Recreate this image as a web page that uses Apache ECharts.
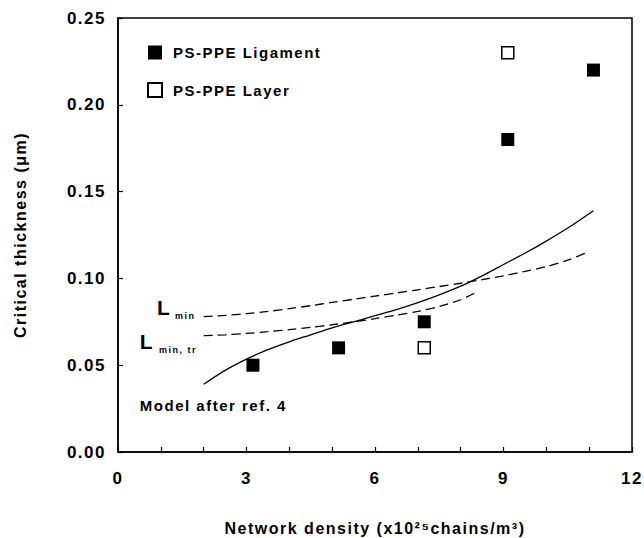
<!DOCTYPE html>
<html>
<head>
<meta charset="utf-8">
<script src="https://cdn.jsdelivr.net/npm/echarts@6/dist/echarts.min.js"></script>
<style>
  html, body { margin: 0; padding: 0; background: #fff; }
  #main { width: 644px; height: 538px; }
  /* the scanned figure uses wide tracking */
  #main text { letter-spacing: 1.5px; }
</style>
</head>
<body>
<div id="main"></div>
<script>
// model curves
var modelX = [2.0, 2.5, 3.0, 3.5, 4.0, 4.5, 5.0, 5.5, 6.0, 6.5, 7.0, 7.5, 8.0, 8.5, 9.0, 9.5, 10.0, 10.5, 11.1];
var modelY = [0.039, 0.047, 0.0535, 0.059, 0.0635, 0.0675, 0.0715, 0.075, 0.0785, 0.082, 0.086, 0.0905, 0.0955, 0.1015, 0.108, 0.1145, 0.1215, 0.129, 0.139];
var lminX = [2.0, 2.5, 3.0, 3.5, 4.0, 4.5, 5.0, 5.5, 6.0, 6.5, 7.0, 7.5, 8.0, 8.5, 9.0, 9.5, 10.0, 10.5, 11.0];
var lminY = [0.078, 0.0787, 0.0797, 0.081, 0.0826, 0.0843, 0.0862, 0.088, 0.0898, 0.0916, 0.0934, 0.0953, 0.0972, 0.0993, 0.1015, 0.104, 0.1068, 0.1105, 0.1155];
var lminTrX = [2.0, 2.5, 3.0, 3.5, 4.0, 4.5, 5.0, 5.5, 6.0, 6.5, 7.0, 7.5, 8.0, 8.4];
var lminTrY = [0.067, 0.0675, 0.0683, 0.0693, 0.0705, 0.0718, 0.0733, 0.075, 0.0768, 0.0788, 0.081, 0.0838, 0.0877, 0.0925];

// measured points
var ligamentX = [3.15, 5.15, 7.15, 9.1, 11.1];
var ligamentY = [0.05, 0.06, 0.075, 0.18, 0.22];
var layerX = [7.15, 9.1];
var layerY = [0.06, 0.23];

var xTicks = [0, 3, 6, 9, 12];
var yTicks = [0, 0.05, 0.10, 0.15, 0.20, 0.25];

var FONT = 'Liberation Sans, Arial, sans-serif';

function pairs(xs, ys) {
    var out = [];
    for (var i = 0; i < xs.length; i++) out.push([xs[i], ys[i]]);
    return out;
}

var chart = echarts.init(document.getElementById('main'), null, {renderer: 'svg'});

chart.setOption({
    animation: false,
    backgroundColor: '#fff',
    textStyle: {fontFamily: FONT, color: '#000', fontWeight: 'bold'},
    grid: {
        left: 118, right: 12, top: 18, bottom: 86,
        outerBoundsMode: 'none',
        show: true, borderColor: '#000', borderWidth: 1.5
    },
    legend: {
        left: 147, top: 45, orient: 'vertical',
        padding: 0, itemGap: 22, itemWidth: 14, itemHeight: 14,
        icon: 'rect',
        data: ['PS-PPE Ligament', 'PS-PPE Layer'],
        textStyle: {fontFamily: FONT, fontSize: 15, fontWeight: 'bold', color: '#000', padding: [0, 0, 0, 6]}
    },
    xAxis: {
        type: 'value',
        min: xTicks[0], max: xTicks[xTicks.length - 1], interval: 3,
        name: 'Network density (x10²⁵chains/m³)',
        nameLocation: 'middle', nameGap: 68,
        nameTextStyle: {fontFamily: FONT, fontSize: 16, fontWeight: 'bold', color: '#000'},
        axisLine: {lineStyle: {color: '#000', width: 1.5}},
        axisTick: {inside: true, length: 5, lineStyle: {color: '#000', width: 1.2}},
        minorTick: {show: true, splitNumber: 3, length: 5, lineStyle: {color: '#000', width: 1.2}},
        splitLine: {show: false},
        axisLabel: {fontFamily: FONT, fontSize: 17, fontWeight: 'bold', color: '#000', margin: 18}
    },
    yAxis: {
        type: 'value',
        min: yTicks[0], max: yTicks[yTicks.length - 1], interval: 0.05,
        name: 'Critical thickness (μm)',
        nameLocation: 'middle', nameGap: 90,
        nameTextStyle: {fontFamily: FONT, fontSize: 16, fontWeight: 'bold', color: '#000'},
        axisLine: {lineStyle: {color: '#000', width: 1.5}},
        axisTick: {inside: true, length: 5, lineStyle: {color: '#000', width: 1.2}},
        splitLine: {show: false},
        axisLabel: {
            fontFamily: FONT, fontSize: 17, fontWeight: 'bold', color: '#000', margin: 12,
            formatter: function (v) { return v.toFixed(2); }
        }
    },
    series: [
        {
            name: 'Model', type: 'line', data: pairs(modelX, modelY),
            showSymbol: false, smooth: 0.3,
            lineStyle: {color: '#000', width: 1.3}
        },
        {
            name: 'Lmin', type: 'line', data: pairs(lminX, lminY),
            showSymbol: false, smooth: 0.3,
            lineStyle: {color: '#000', width: 1.3, type: [9, 5]}
        },
        {
            name: 'Lmin,tr', type: 'line', data: pairs(lminTrX, lminTrY),
            showSymbol: false, smooth: 0.3,
            lineStyle: {color: '#000', width: 1.3, type: [9, 5]}
        },
        {
            name: 'PS-PPE Ligament', type: 'scatter', data: pairs(ligamentX, ligamentY),
            symbol: 'rect', symbolSize: 13, z: 5,
            itemStyle: {color: '#000', opacity: 1}
        },
        {
            name: 'PS-PPE Layer', type: 'scatter', data: pairs(layerX, layerY),
            symbol: 'rect', symbolSize: 12, z: 5,
            itemStyle: {color: '#fff', borderColor: '#000', borderWidth: 1.5, opacity: 1}
        }
    ]
});

// text annotations placed in data space
function at(x, y) { return chart.convertToPixel({gridIndex: 0}, [x, y]); }
function label(x, y, text, size) {
    var p = at(x, y);
    return {
        type: 'text', x: p[0], y: p[1], z: 10,
        style: {text: text, fontFamily: FONT, fontSize: size, fontWeight: 'bold', fill: '#000', align: 'left', verticalAlign: 'middle'}
    };
}

chart.setOption({
    graphic: [
        label(0.91, 0.083, 'L', 21),
        label(1.33, 0.0783, 'min', 9),
        label(0.51, 0.0639, 'L', 21),
        label(0.96, 0.0588, 'min, tr', 9),
        label(0.51, 0.027, 'Model after ref. 4', 15)
    ]
});
</script>
</body>
</html>
